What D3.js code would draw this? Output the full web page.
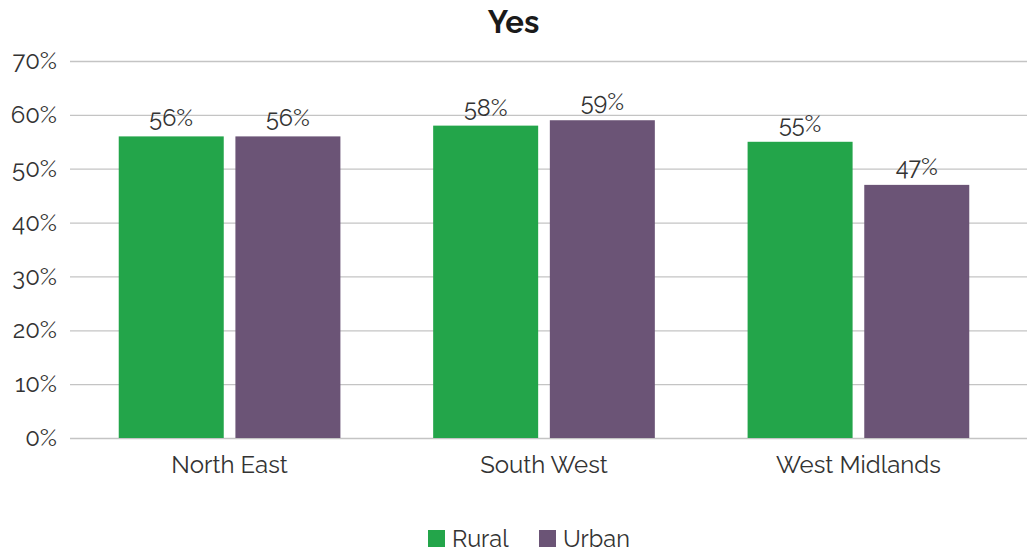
<!DOCTYPE html>
<html>
<head>
<meta charset="utf-8">
<script src="https://cdn.jsdelivr.net/npm/d3@7"></script>
<style>
  html, body { margin: 0; padding: 0; background: #fff; }
  svg { display: block; font-family: Raleway, Lato, "Open Sans", sans-serif; }
</style>
</head>
<body>
<svg id="chart" width="1027" height="552"></svg>
<script>
// Share answering "Yes", by region and area type
const regions = ["North East", "South West", "West Midlands"];
const seriesNames = ["Rural", "Urban"];
const rural = [0.56, 0.58, 0.55];
const urban = [0.56, 0.59, 0.47];
const yTicks = [0, 0.1, 0.2, 0.3, 0.4, 0.5, 0.6, 0.7];
const colors = ["#23a54a", "#6b5476"];

const svg = d3.select("#chart");
const margin = { top: 61, right: 0, bottom: 114, left: 70 };
const W = 1027, H = 552;

const x0 = d3.scaleBand().domain(regions)
  .range([margin.left, 1018])
  .paddingInner(0.295).paddingOuter(0.155);
const x1 = d3.scaleBand().domain(seriesNames)
  .range([0, x0.bandwidth()]).paddingInner(0.1);
const y = d3.scaleLinear().domain([0, 0.7]).range([H - margin.bottom, margin.top]);
const color = d3.scaleOrdinal().domain(seriesNames).range(colors);
const pct = d3.format(".0%");

// Title
svg.append("text")
  .attr("x", W / 2).attr("y", 33)
  .attr("text-anchor", "middle")
  .attr("font-size", 31).attr("font-weight", 700).attr("fill", "#1a1a1a")
  .text("Yes");

// Gridlines and y labels
const yAxis = d3.axisLeft(y).tickValues(yTicks).tickFormat(pct)
  .tickSize(-(W - margin.left - margin.right)).tickPadding(13);
const gy = svg.append("g").attr("transform", `translate(${margin.left},0)`).call(yAxis);
gy.select(".domain").remove();
gy.selectAll(".tick line").attr("stroke", "#c4c4c4").attr("stroke-width", 1.3);
gy.selectAll(".tick text").attr("font-size", 24).attr("fill", "#333")
  .attr("font-family", "Raleway, Lato, sans-serif");

// Bars
const data = regions.map((r, i) => ({ region: r, values: [
  { key: "Rural", value: rural[i] },
  { key: "Urban", value: urban[i] }
]}));

const groups = svg.append("g").selectAll("g").data(data).join("g")
  .attr("transform", d => `translate(${x0(d.region)},0)`);

groups.selectAll("rect").data(d => d.values).join("rect")
  .attr("x", d => x1(d.key))
  .attr("y", d => y(d.value))
  .attr("width", x1.bandwidth())
  .attr("height", d => y(0) - y(d.value))
  .attr("fill", d => color(d.key));

groups.selectAll("text.val").data(d => d.values).join("text")
  .attr("class", "val")
  .attr("x", d => x1(d.key) + x1.bandwidth() / 2)
  .attr("y", d => y(d.value) - 10)
  .attr("text-anchor", "middle")
  .attr("font-size", 23.5).attr("fill", "#333")
  .text(d => pct(d.value));

// Category axis
const xAxis = d3.axisBottom(x0).tickSize(0).tickPadding(18);
const gx = svg.append("g").attr("transform", `translate(0,${y(0)})`).call(xAxis);
gx.select(".domain").remove();
gx.selectAll(".tick text").attr("font-size", 24).attr("fill", "#333")
  .attr("font-family", "Raleway, Lato, sans-serif");

// Legend
const legend = svg.append("g").attr("transform", "translate(428,530)");
const items = [{ name: "Rural", dx: 0 }, { name: "Urban", dx: 111 }];
const li = legend.selectAll("g").data(items).join("g")
  .attr("transform", d => `translate(${d.dx},0)`);
li.append("rect").attr("width", 17).attr("height", 17).attr("fill", d => color(d.name));
li.append("text").attr("x", 24).attr("y", 17)
  .attr("font-size", 23.5).attr("fill", "#333").text(d => d.name);
</script>
</body>
</html>
